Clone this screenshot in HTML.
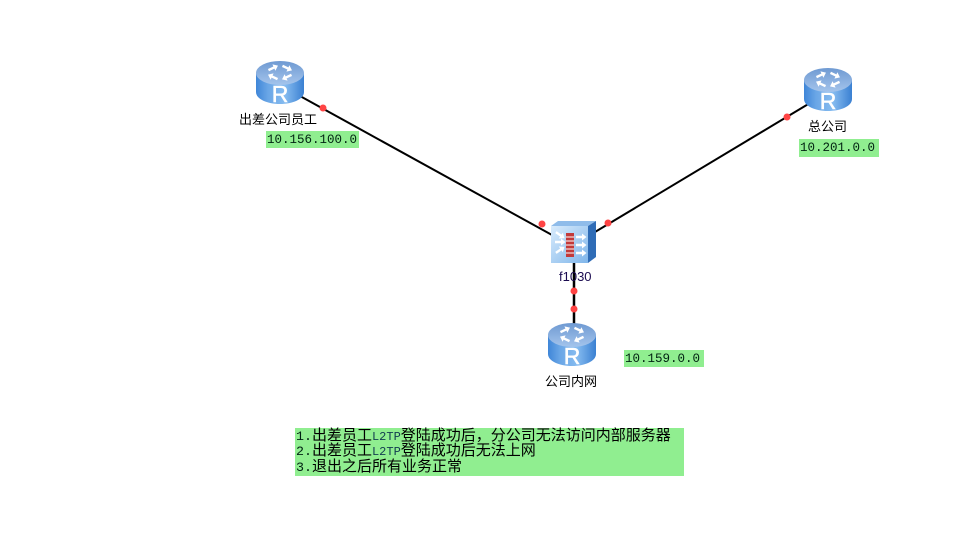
<!DOCTYPE html>
<html><head><meta charset="utf-8"><style>
html,body{margin:0;padding:0;background:#fff}
#c{position:relative;width:975px;height:554px;overflow:hidden;background:#fff}
svg{position:absolute;left:0;top:0}
.l{position:absolute;font:13px/14px "WenQuanYi Zen Hei","Noto Sans CJK SC",sans-serif;color:#000;white-space:nowrap}
.g{position:absolute;background:#90ee90;font:12.5px/18px "Liberation Mono",monospace;color:#021;white-space:nowrap;box-sizing:border-box}
.n{position:absolute;left:1px;height:16px;font:15px/16px "WenQuanYi Zen Hei","Noto Sans CJK SC",sans-serif;color:#000;white-space:nowrap;top:0}
.n b{font:400 13.3px/16px "Liberation Mono",monospace;color:#021}
.n i{font:400 12px/16px "Liberation Mono",monospace;color:#123c50}
</style></head><body><div id="c">
<svg width="975" height="554" viewBox="0 0 975 554">
<defs>
<linearGradient id="b" x1="0" x2="1" y1="0" y2="0"><stop offset="0" stop-color="#3f86d8"/><stop offset=".25" stop-color="#6aa6e6"/><stop offset=".6" stop-color="#86bcf0"/><stop offset="1" stop-color="#3a80d2"/></linearGradient>
<linearGradient id="t" x1="0" x2="0" y1="0" y2="1"><stop offset="0" stop-color="#6f9ad2"/><stop offset="1" stop-color="#a4c4ec"/></linearGradient>
<linearGradient id="f" x1="0" x2="1" y1="0" y2="1"><stop offset="0" stop-color="#d8ebfc"/><stop offset="1" stop-color="#80b6ea"/></linearGradient>
<g id="a"><path d="M-5 -1.2H1V-3.5L5.5 0L1 3.5V1.2H-5Z" fill="#fff"/></g>
<g id="r">
<path d="M0 12V31C0 38 11 43 24 43S48 38 48 31V12Z" fill="url(#b)"/>
<ellipse cx="24" cy="12" rx="24" ry="12" fill="url(#t)"/>
<use href="#a" transform="translate(17 7) rotate(-25)"/>
<use href="#a" transform="translate(31 7) rotate(25)"/>
<use href="#a" transform="translate(17 16) rotate(205)"/>
<use href="#a" transform="translate(31 16) rotate(155)"/>
<text x="24" y="41" text-anchor="middle" font-family="Liberation Sans" font-size="23" fill="#fff" stroke="#fff" stroke-width=".5">R</text>
</g>
</defs>
<g stroke="#000" stroke-width="2">
<line x1="300" y1="96" x2="552" y2="235"/>
<line x1="810" y1="103" x2="595" y2="232"/>
<line x1="574" y1="260" x2="574" y2="325" stroke-width="2.5"/>
</g>
<use href="#r" x="256" y="61"/>
<use href="#r" x="804" y="68"/>
<use href="#r" x="548" y="323"/>
<path d="M551 226L558 221H596L588 226Z" fill="#8fbcea"/>
<path d="M588 226L596 221V257L588 263Z" fill="#2f6cb6"/>
<rect x="551" y="226" width="37" height="37" fill="url(#f)"/>
<rect x="566" y="233" width="8" height="24" fill="#c23a3a"/>
<g stroke="#fff" stroke-width="1"><path d="M566 237H574M566 241H574M566 245H574M566 249H574M566 253H574"/></g>
<use href="#a" transform="translate(560 235) rotate(35)"/>
<use href="#a" transform="translate(560 242)"/>
<use href="#a" transform="translate(560 250) rotate(-35)"/>
<use href="#a" transform="translate(581 237)"/>
<use href="#a" transform="translate(581 245)"/>
<use href="#a" transform="translate(581 253)"/>
<g fill="#f44">
<circle cx="323" cy="108" r="3.5"/><circle cx="542" cy="224" r="3.5"/>
<circle cx="787" cy="117" r="3.5"/><circle cx="608" cy="223" r="3.5"/>
<circle cx="574" cy="291" r="3.5"/><circle cx="574" cy="309" r="3.5"/>
</g>
</svg>
<div class="l" style="left:239px;top:112px">出差公司员工</div>
<div class="l" style="left:808px;top:119px">总公司</div>
<div class="l" style="left:545px;top:374px">公司内网</div>
<div class="l" style="left:559px;top:270px;color:#1a0a50;font-family:'Liberation Sans',sans-serif">f1030</div>
<div class="g" style="left:266px;top:131px;width:93px;height:17px;padding-left:1px">10.156.100.0</div>
<div class="g" style="left:799px;top:139px;width:80px;height:18px;padding-left:1px">10.201.0.0</div>
<div class="g" style="left:624px;top:350px;width:80px;height:17px;padding-left:1px">10.159.0.0</div>
<div class="g" style="left:295px;top:428px;width:389px;height:48px">
<div class="n" style="top:-1px"><b>1.</b>出差员工<i>L2TP</i>登陆成功后，分公司无法访问内部服务器</div>
<div class="n" style="top:14px"><b>2.</b>出差员工<i>L2TP</i>登陆成功后无法上网</div>
<div class="n" style="top:30px"><b>3.</b>退出之后所有业务正常</div>
</div>
</div></body></html>
